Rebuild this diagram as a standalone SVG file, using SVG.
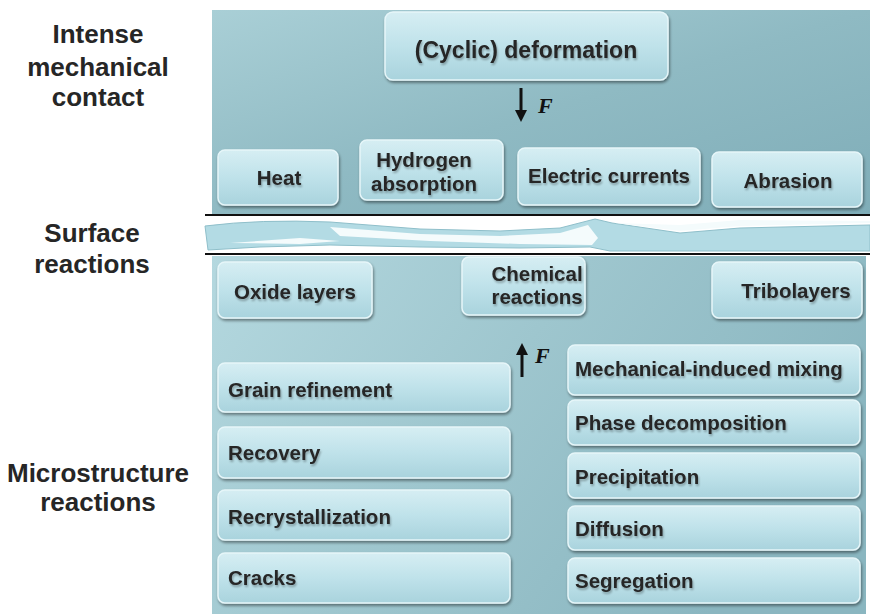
<svg xmlns="http://www.w3.org/2000/svg" width="870" height="614" viewBox="0 0 870 614">
<defs>
<linearGradient id="panelTop" x1="0" y1="0" x2="1" y2="1">
<stop offset="0" stop-color="#a9cfd6"/>
<stop offset="0.5" stop-color="#8fbac3"/>
<stop offset="1" stop-color="#7fadb8"/>
</linearGradient>
<linearGradient id="panelBot" x1="0" y1="0" x2="1" y2="0.4">
<stop offset="0" stop-color="#b4d8df"/>
<stop offset="0.5" stop-color="#9ec6ce"/>
<stop offset="1" stop-color="#8ab6c0"/>
</linearGradient>
<linearGradient id="boxFill" x1="0" y1="0" x2="0" y2="1">
<stop offset="0" stop-color="#d6eef3"/>
<stop offset="0.5" stop-color="#bfe2ea"/>
<stop offset="1" stop-color="#a9d3dd"/>
</linearGradient>
<filter id="shadow" x="-10%" y="-10%" width="120%" height="130%">
<feGaussianBlur in="SourceAlpha" stdDeviation="1.5"/>
<feOffset dx="1" dy="2" result="b"/>
<feComponentTransfer><feFuncA type="linear" slope="0.45"/></feComponentTransfer>
<feMerge><feMergeNode/><feMergeNode in="SourceGraphic"/></feMerge>
</filter>
<filter id="tshadow" x="-5%" y="-20%" width="110%" height="150%">
<feGaussianBlur in="SourceAlpha" stdDeviation="0.8"/>
<feOffset dx="1" dy="1.5"/>
<feComponentTransfer><feFuncA type="linear" slope="0.3"/></feComponentTransfer>
<feMerge><feMergeNode/><feMergeNode in="SourceGraphic"/></feMerge>
</filter>
<marker id="arrow" viewBox="0 0 10 10" refX="5" refY="5" markerWidth="4" markerHeight="4" orient="auto">
<path d="M0,0 L10,5 L0,10 Z" fill="#111"/>
</marker>
</defs>
<style>
.box{fill:url(#boxFill);stroke:#e6f6f9;stroke-width:1.5;filter:url(#shadow)}
.t{font-family:"Liberation Sans",Arial,sans-serif;font-weight:bold;font-size:20.5px;fill:#262626;filter:url(#tshadow)}
.c{text-anchor:middle}
.lab{font-family:"Liberation Sans",Arial,sans-serif;font-weight:bold;font-size:26px;fill:#262626;text-anchor:middle}
.f{font-family:"Liberation Serif","Times New Roman",serif;font-style:italic;font-weight:bold;font-size:22px;fill:#111}
.conn{stroke:#111;stroke-width:3;fill:none;marker-end:url(#arrow)}
</style>
<rect width="870" height="614" fill="#ffffff"/>

<g id="labels">
<text class="lab" x="98" y="43">Intense</text>
<text class="lab" x="98" y="76">mechanical</text>
<text class="lab" x="98" y="106">contact</text>
<text class="lab" x="92" y="242">Surface</text>
<text class="lab" x="92" y="273">reactions</text>
<text class="lab" x="98" y="482">Microstructure</text>
<text class="lab" x="98" y="511">reactions</text>
</g>

<g id="panels">
<rect x="212" y="10" width="658" height="204" fill="url(#panelTop)"/>
<rect x="212" y="256" width="654" height="358" fill="url(#panelBot)"/>
<line x1="205" y1="215" x2="870" y2="215" stroke="#111" stroke-width="2"/>
<line x1="205" y1="254" x2="870" y2="254" stroke="#111" stroke-width="2"/>
<path d="M205,226 Q260,219 330,222 L420,229 L500,231 L560,228 L595,219 L612,223 L680,233 L740,228 L870,225 L870,251 L700,251 L610,251 L590,247 L520,248 L420,247 L330,245 L260,247 L208,250 Z" fill="#b3dbe4" stroke="#8fbfca" stroke-width="1"/>
<path d="M330,227 L420,234 L500,236 L560,233 L588,225 L598,238 L592,245 L520,244 L430,241 L340,236 Z" fill="#f4fbfc"/>
<path d="M615,223 L680,231 L740,226 L870,223 L870,221 L740,220 L680,225 Z" fill="#f4fbfc"/>
<path d="M230,243 L300,238 L340,241 L300,244 Z" fill="#f4fbfc"/>
</g>

<g id="connectors">
<line class="conn" x1="521" y1="88" x2="521" y2="116"/>
<line class="conn" x1="522" y1="377" x2="522" y2="349"/>
<text class="f" x="538" y="113">F</text>
<text class="f" x="535" y="363">F</text>
</g>

<g id="n-deformation"><rect class="box" x="385" y="12" width="283" height="68" rx="8"/><text class="t c" x="526" y="58" style="font-size:23px">(Cyclic) deformation</text></g>
<g id="n-heat"><rect class="box" x="218" y="150" width="120" height="55" rx="7"/><text class="t c" x="279" y="185">Heat</text></g>
<g id="n-hydrogen"><rect class="box" x="360" y="140" width="143" height="60" rx="7"/><text class="t c" x="424" y="167">Hydrogen</text><text class="t c" x="424" y="191">absorption</text></g>
<g id="n-electric"><rect class="box" x="518" y="148" width="182" height="57" rx="7"/><text class="t c" x="609" y="183">Electric currents</text></g>
<g id="n-abrasion"><rect class="box" x="712" y="152" width="150" height="55" rx="7"/><text class="t c" x="788" y="188">Abrasion</text></g>

<g id="n-oxide"><rect class="box" x="218" y="262" width="154" height="56" rx="7"/><text class="t c" x="295" y="299">Oxide layers</text></g>
<g id="n-chemical"><rect class="box" x="462" y="257" width="123" height="58" rx="7"/><text class="t c" x="537" y="281">Chemical</text><text class="t c" x="537" y="304">reactions</text></g>
<g id="n-tribo"><rect class="box" x="712" y="262" width="150" height="56" rx="7"/><text class="t c" x="796" y="298">Tribolayers</text></g>

<g id="n-grain"><rect class="box" x="218" y="363" width="292" height="49" rx="7"/><text class="t" x="228" y="397">Grain refinement</text></g>
<g id="n-recovery"><rect class="box" x="218" y="427" width="292" height="51" rx="7"/><text class="t" x="228" y="460">Recovery</text></g>
<g id="n-recryst"><rect class="box" x="218" y="490" width="292" height="50" rx="7"/><text class="t" x="228" y="524">Recrystallization</text></g>
<g id="n-cracks"><rect class="box" x="218" y="553" width="292" height="50" rx="7"/><text class="t" x="228" y="585">Cracks</text></g>

<g id="n-mixing"><rect class="box" x="568" y="345" width="292" height="50" rx="7"/><text class="t" x="575" y="376">Mechanical-induced mixing</text></g>
<g id="n-phase"><rect class="box" x="568" y="400" width="292" height="45" rx="7"/><text class="t" x="575" y="430">Phase decomposition</text></g>
<g id="n-precip"><rect class="box" x="568" y="453" width="292" height="45" rx="7"/><text class="t" x="575" y="484">Precipitation</text></g>
<g id="n-diffusion"><rect class="box" x="568" y="506" width="292" height="44" rx="7"/><text class="t" x="575" y="536">Diffusion</text></g>
<g id="n-segregation"><rect class="box" x="568" y="558" width="292" height="45" rx="7"/><text class="t" x="575" y="588">Segregation</text></g>
</svg>
